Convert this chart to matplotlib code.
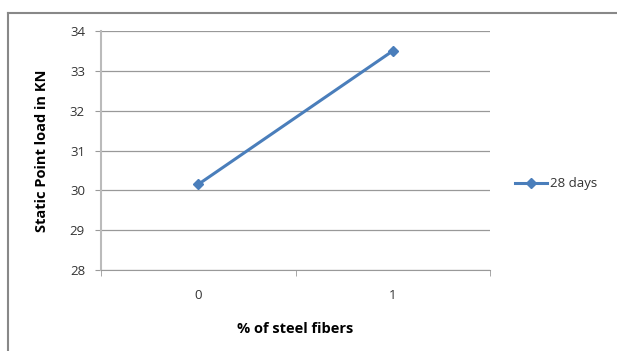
import matplotlib.pyplot as plt
from matplotlib.lines import Line2D

# static point load test results
fiber_pct = ['0', '1']
load_28d = [30.15, 33.5]
y_ticks = [28, 29, 30, 31, 32, 33, 34]

plt.rcParams['font.family'] = ['Open Sans', 'DejaVu Sans']

fig = plt.figure(figsize=(6.17, 3.51), dpi=100)
ax = fig.add_axes([101 / 617, 81 / 351, 389 / 617, 239 / 351])

x = list(range(len(fiber_pct)))
ax.plot(x, load_28d, color='#4A7EBB', lw=2.2, marker='D', ms=5.5,
        label='28 days')

ax.set_xlim(-0.5, len(fiber_pct) - 0.5)
ax.set_ylim(y_ticks[0], y_ticks[-1])
ax.set_yticks(y_ticks)
ax.set_xticks(x)
ax.set_xticklabels(fiber_pct)
ax.set_xticks([-0.5, 0.5, 1.5], minor=True)
ax.tick_params(axis='x', which='major', length=0, pad=14, labelsize=9.5, labelcolor='#333333')
ax.tick_params(axis='x', which='minor', length=4, color='#999999')
ax.tick_params(axis='y', length=4.5, color='#999999', labelsize=9.5, labelcolor='#333333', pad=7)

ax.grid(axis='y', color='#999999', lw=0.9)
ax.set_axisbelow(True)
for side in ['top', 'right']:
    ax.spines[side].set_visible(False)
ax.spines['left'].set_color('#bbbbbb')
ax.spines['left'].set_linewidth(1.5)
ax.spines['bottom'].set_color('#999999')

ax.set_ylabel('Static Point load in KN', fontsize=10.5, fontweight='bold', labelpad=15)
ax.set_xlabel('% of steel fibers', fontsize=10.5, fontweight='bold', labelpad=14)

ax.legend(loc='center left', bbox_to_anchor=(1.035, 0.36), frameon=False,
          fontsize=9.5, handlelength=2.4, handletextpad=0.2, labelcolor='#333333')

# chart frame
fig.add_artist(Line2D([8 / 617, 8 / 617], [0, 1 - 13 / 351], color='#888888', lw=1.5))
fig.add_artist(Line2D([8 / 617, 1], [1 - 13 / 351, 1 - 13 / 351], color='#888888', lw=1.5))

fig.savefig('out.png', dpi=100)
